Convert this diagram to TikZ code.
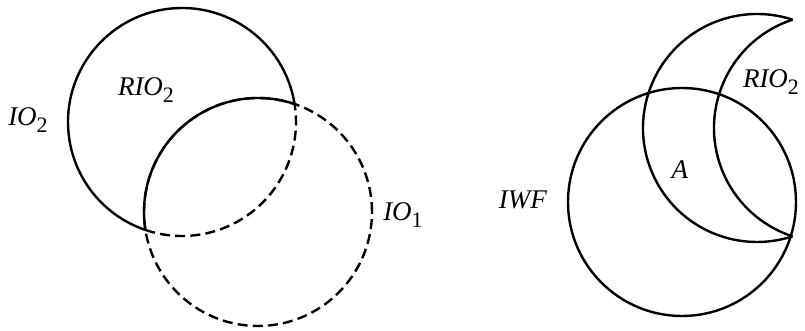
\documentclass[tikz,border=0pt]{standalone}
\usepackage{fontspec}
\setmainfont{Liberation Serif}
\usepackage{tikz}
\usetikzlibrary{positioning,calc}

\newcommand{\setname}[2]{{\itshape #1}\raisebox{-0.55ex}{\fontsize{11}{12}\selectfont #2}}

\tikzset{
  ring/.style={line width=1.2pt},
  dashring/.style={line width=1.2pt, dash pattern=on 5pt off 2.6pt},
  setlabel/.style={font=\fontsize{13.5}{16}\selectfont, inner sep=0pt}
}

\begin{document}
\begin{tikzpicture}[x=0.5pt, y=0.5pt]
  \useasboundingbox (0,0) rectangle (805,331);

  % Left: IO2 against IO1
  \coordinate (c2) at (182,209);
  \coordinate (c1) at (258,119);
  \draw[ring] (c2) ++(9.07:114) arc[start angle=9.07, end angle=251.29, radius=114];
  \draw[dashring] (c2) ++(-108.71:114) arc[start angle=-108.71, end angle=9.07, radius=114];
  \draw[dashring] (c1) circle[radius=114];
  \draw[ring] (c1) ++(71.29:114) arc[start angle=71.29, end angle=189.07, radius=114];

  \node[setlabel] (io2) at (28,211) {\setname{IO}{2}};
  \node[setlabel] (rio2a) at (146,241) {\setname{RIO}{2}};
  \node[setlabel] (io1) at (403,116) {\setname{IO}{1}};

  % Right: IWF and the crescent
  \coordinate (cw) at (682,129);
  \coordinate (co) at (757,203);
  \coordinate (ci) at (828,203);
  \draw[ring] (cw) circle[radius=114];
  \draw[ring] (co) ++(71.86:114) arc[start angle=71.86, end angle=288.14, radius=114];
  \draw[ring] (ci) ++(108.14:114) arc[start angle=108.14, end angle=251.86, radius=114];

  \node[setlabel] (iwf) at (523,131) {\textit{IWF}};
  \node[setlabel] (a) at (680,161) {\textit{A}};
  \node[setlabel] (rio2b) at (771,249) {\setname{RIO}{2}};
\end{tikzpicture}
\end{document}
